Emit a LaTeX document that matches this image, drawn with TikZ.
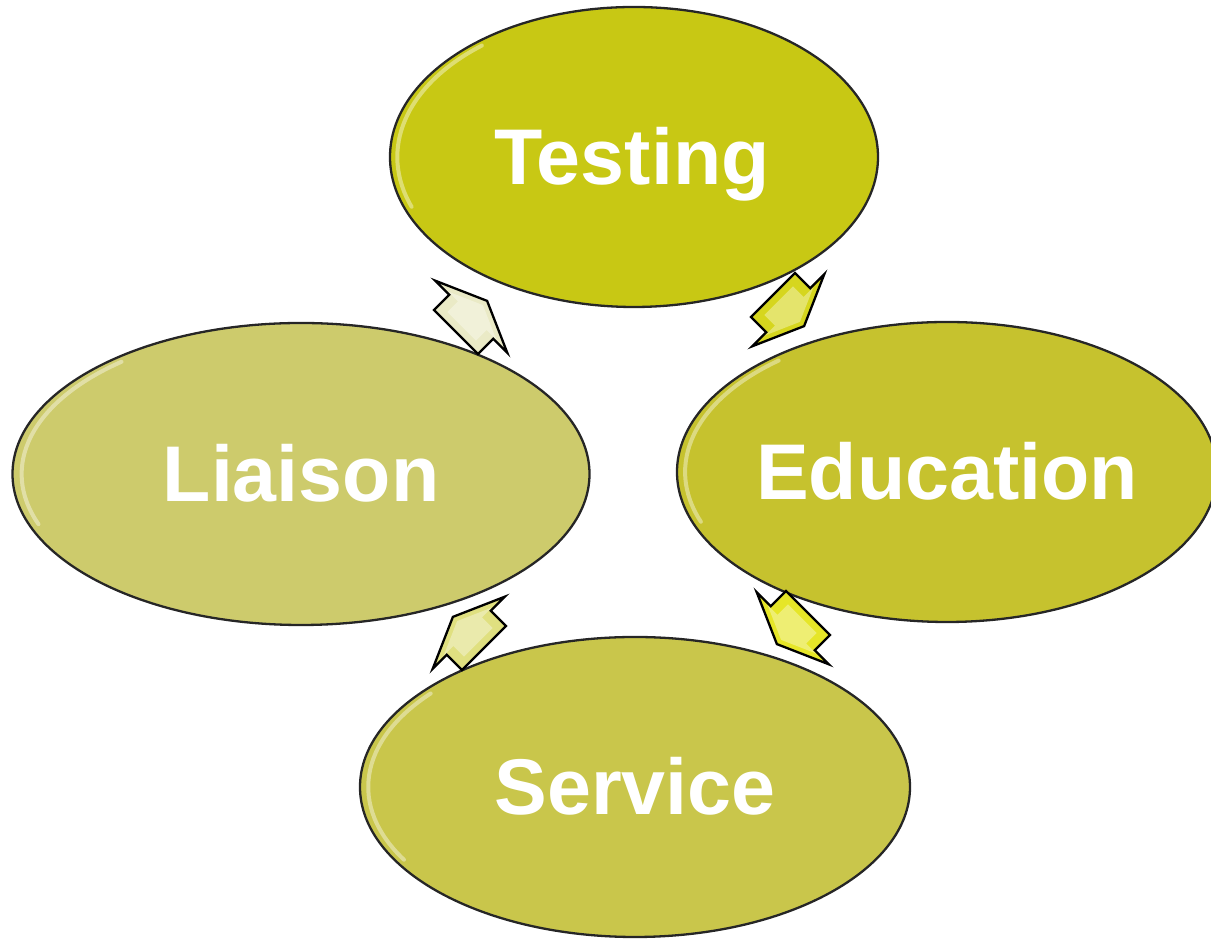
\documentclass[tikz,border=0pt]{standalone}
\usepackage{fontspec}
\setmainfont{Liberation Sans}
\usetikzlibrary{shapes.geometric,shapes.arrows,calc}
\definecolor{cT}{RGB}{200,200,20}
\definecolor{cE}{RGB}{198,194,46}
\definecolor{cL}{RGB}{205,203,108}
\definecolor{cS}{RGB}{201,198,75}
\definecolor{aA}{RGB}{234,234,198}
\definecolor{aB}{RGB}{214,214,30}
\definecolor{aC}{RGB}{224,224,128}
\definecolor{aD}{RGB}{230,230,40}
\tikzset{
  ell/.style={ellipse, draw=black!85, line width=2.3pt, inner sep=0pt},
  lbl/.style={text=white, font=\fontsize{79}{81}\selectfont\bfseries, text height=56pt, text depth=0pt, inner sep=0pt},
  gloss/.style={white, opacity=0.4, line width=4pt, line cap=round},
  blockarrow/.style={single arrow, draw=black, line width=2.3pt, inner xsep=0pt, inner ysep=30pt,
    minimum width=0pt, minimum height=44pt, single arrow head extend=20pt, single arrow tip angle=132.5},
  bevel/.style={single arrow, fill=white, opacity=0.35, inner xsep=0pt, inner ysep=20pt,
    minimum width=0pt, minimum height=30pt, single arrow head extend=14pt, single arrow tip angle=132.5}
}
\begin{document}
\begin{tikzpicture}[x=1pt,y=1pt]
\useasboundingbox (0,0) rectangle (1211,939);
\clip (0,0) rectangle (1211,939);
% ellipses
\node[ell, fill=cT, minimum width=488pt, minimum height=300pt] (T) at (634,782) {};
\node[ell, fill=cE, minimum width=540pt, minimum height=300pt] (E) at (947,467) {};
\node[ell, fill=cL, minimum width=577pt, minimum height=302pt] (L) at (301,465) {};
\node[ell, fill=cS, minimum width=550pt, minimum height=300pt] (S) at (635,152) {};
% gloss rims
\draw[gloss] ([shift={({0.97*244*cos(130)},{0.97*150*sin(130)})}]T.center) arc[start angle=130, end angle=200, x radius=236.7, y radius=145.5];
\draw[gloss] ([shift={({0.97*270*cos(130)},{0.97*150*sin(130)})}]E.center) arc[start angle=130, end angle=200, x radius=261.9, y radius=145.5];
\draw[gloss] ([shift={({0.97*288*cos(130)},{0.97*151*sin(130)})}]L.center) arc[start angle=130, end angle=200, x radius=279.4, y radius=146.5];
\draw[gloss] ([shift={({0.97*275*cos(140)},{0.97*150*sin(140)})}]S.center) arc[start angle=140, end angle=210, x radius=266.8, y radius=145.5];
% labels
\node[lbl] (Tt) at ([xshift=-2pt]T.center) {Testing};
\node[lbl] (Et) at (E.center) {Education};
\node[lbl] (Lt) at (L.center) {Liaison};
\node[lbl] (St) at (S.center) {Service};
% block arrows (clockwise cycle)
\node[blockarrow, fill=aA, rotate=45, anchor=tip] (a1) at (488,639) {};
\node[blockarrow, fill=aB, rotate=-45, anchor=tip] (a2) at (805,612) {};
\node[blockarrow, fill=aD, rotate=-135, anchor=tip] (a3) at (776,294) {};
\node[blockarrow, fill=aC, rotate=135, anchor=tip] (a4) at (452,323) {};
\node[bevel, rotate=45, anchor=tip] (b1) at ($(a1.tip)+(-135:7)$) {};
\node[bevel, rotate=-45, anchor=tip] (b2) at ($(a2.tip)+(135:7)$) {};
\node[bevel, rotate=-135, anchor=tip] (b3) at ($(a3.tip)+(45:7)$) {};
\node[bevel, rotate=135, anchor=tip] (b4) at ($(a4.tip)+(-45:7)$) {};
\end{tikzpicture}
\end{document}
